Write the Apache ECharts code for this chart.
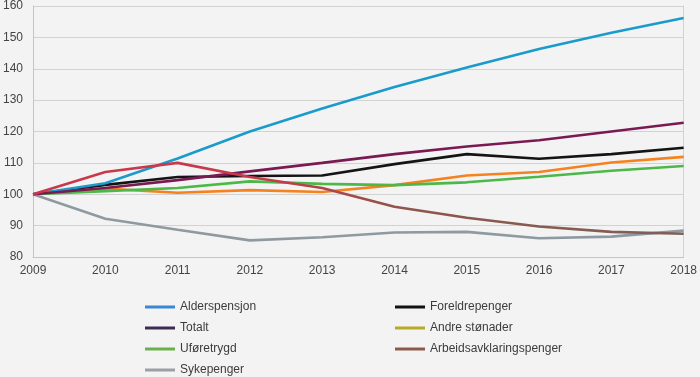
<!DOCTYPE html>
<html>
<head>
<meta charset="utf-8">
<script src="https://cdn.jsdelivr.net/npm/echarts@6/dist/echarts.min.js"></script>
<style>
  html, body { margin: 0; padding: 0; background: #f3f3f4; }
  #chart { width: 700px; height: 377px; }
</style>
</head>
<body>
<div id="chart"></div>
<script>
var years = ['2009', '2010', '2011', '2012', '2013', '2014', '2015', '2016', '2017', '2018'];

var alderspensjon = [100, 103.5, 111.4, 120, 127.3, 134.2, 140.4, 146.3, 151.5, 156.2];
var totalt = [100, 102, 104.5, 107.3, 110, 112.8, 115.2, 117.2, 120, 122.8];
var foreldrepenger = [100, 103, 105.5, 105.8, 106, 109.6, 112.8, 111.3, 112.8, 114.8];
var andreStonader = [100, 101.8, 100.5, 101.3, 100.7, 102.9, 106, 107.1, 110.1, 111.9];
var uforetrygd = [100, 101, 102, 104.1, 103.3, 102.9, 103.8, 105.6, 107.5, 109];
var arbeidsavklaring = [100, 107.1, 110, 105.5, 102, 96, 92.5, 89.7, 88, 87.4];
var sykepenger = [100, 92.2, 88.7, 85.3, 86.3, 87.8, 88, 86, 86.5, 88.4];

var chart = echarts.init(document.getElementById('chart'));

function line(name, data, color, z) {
  return {
    name: name,
    type: 'line',
    data: data,
    symbol: 'none',
    z: z || 2,
    lineStyle: { color: color, width: 2.6 },
    itemStyle: { color: color }
  };
}

var aapColor = new echarts.graphic.LinearGradient(0, 0, 1, 0, [
  { offset: 0, color: '#c9384c' },
  { offset: 0.38, color: '#c63a4a' },
  { offset: 0.55, color: '#8f5548' },
  { offset: 1, color: '#7f6058' }
]);

var legendText = { color: '#3c3c3c', fontSize: 12, fontFamily: 'Liberation Sans, Arial, sans-serif' };

option = {
  backgroundColor: '#f3f3f4',
  animation: false,
  grid: { left: 30, right: 16, top: 5, bottom: 120 },
  xAxis: {
    type: 'category',
    data: years,
    boundaryGap: false,
    axisLine: { lineStyle: { color: '#c4c4c4' } },
    axisTick: { show: false },
    axisLabel: { color: '#444', fontSize: 12, margin: 8, fontFamily: 'Liberation Sans, Arial, sans-serif' },
    splitLine: { show: false }
  },
  yAxis: [
    {
      type: 'value',
      min: 80,
      max: 160,
      interval: 10,
      axisLine: { show: true, lineStyle: { color: '#c4c4c4' } },
      axisTick: { show: false },
      axisLabel: { color: '#444', fontSize: 12, margin: 10, fontFamily: 'Liberation Sans, Arial, sans-serif' },
      splitLine: { lineStyle: { color: '#d2d2d2', width: 1 } }
    },
    {
      type: 'value',
      position: 'right',
      min: 80,
      max: 160,
      interval: 10,
      axisLine: { show: true, lineStyle: { color: '#d2d2d2' } },
      axisTick: { show: false },
      axisLabel: { show: false },
      splitLine: { show: false }
    }
  ],
  legend: [
    {
      orient: 'vertical',
      left: 145,
      top: 301,
      padding: 0,
      itemWidth: 30,
      itemHeight: 3,
      itemGap: 9,
      icon: 'rect',
      textStyle: legendText,
      data: [
        { name: 'Alderspensjon', itemStyle: { color: '#3a86d4' } },
        { name: 'Totalt', itemStyle: { color: '#3e2a52' } },
        { name: 'Uføretrygd', itemStyle: { color: '#6cb04e' } },
        { name: 'Sykepenger', itemStyle: { color: '#9aa0a6' } }
      ]
    },
    {
      orient: 'vertical',
      left: 395,
      top: 301,
      padding: 0,
      itemWidth: 30,
      itemHeight: 3,
      itemGap: 9,
      icon: 'rect',
      textStyle: legendText,
      data: [
        { name: 'Foreldrepenger', itemStyle: { color: '#111111' } },
        { name: 'Andre stønader', itemStyle: { color: '#b8a928' } },
        { name: 'Arbeidsavklaringspenger', itemStyle: { color: '#8c5a4c' } }
      ]
    }
  ],
  series: [
    line('Alderspensjon', alderspensjon, '#1a9bcb', 3),
    line('Foreldrepenger', foreldrepenger, '#141414', 2),
    line('Totalt', totalt, '#7a1a52', 3),
    line('Andre stønader', andreStonader, '#f5821f', 2),
    line('Uføretrygd', uforetrygd, '#4cb848', 2),
    line('Arbeidsavklaringspenger', arbeidsavklaring, aapColor, 4),
    line('Sykepenger', sykepenger, '#8e9aa0', 2)
  ]
};

chart.setOption(option);
window.addEventListener('resize', function () {
  chart.resize();
});
</script>
</body>
</html>
